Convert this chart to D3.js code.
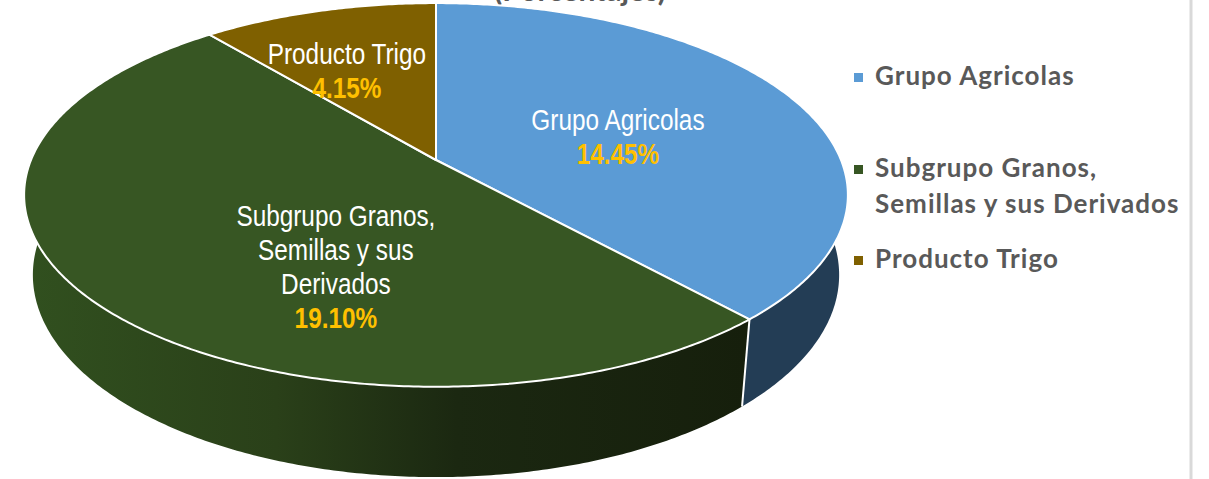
<!DOCTYPE html>
<html lang="es">
<head>
  <meta charset="UTF-8">
  <title>Pie 3D</title>
  <script src="https://d3js.org/d3.v7.min.js"></script>
  <style>
    body { margin: 0; background: #fff; }
    .lbl-name { font-family: "Liberation Sans", Arial, sans-serif; font-size: 29px; fill: #fff; }
    .lbl-pct { font-family: "Liberation Sans", Arial, sans-serif; font-size: 29px; font-weight: bold; fill: #ffc000; }
    .legend text { font-family: Lato, "Open Sans", sans-serif; font-size: 26px; font-weight: bold; fill: #595959; letter-spacing: 1px; }
    .title { font-family: Lato, "Open Sans", sans-serif; font-size: 30px; font-weight: bold; fill: #595959; }
  </style>
</head>
<body>
  <svg width="1209" height="479"></svg>
  <script>
    // datos
    const categories = ["Grupo Agricolas", "Subgrupo Granos, Semillas y sus Derivados", "Producto Trigo"];
    const values = [14.45, 19.10, 4.15];
    const colors = ["#5b9bd5", "#375623", "#7f6000"];
    const sideColors = ["#233d55", "url(#gradGreen)", "#4a3800"];
    const labelLines = [["Grupo Agricolas"], ["Subgrupo Granos,", "Semillas y sus", "Derivados"], ["Producto Trigo"]];
    const legendLines = [["Grupo Agricolas"], ["Subgrupo Granos,", "Semillas y sus Derivados"], ["Producto Trigo"]];
    // posicion de etiqueta (angulo en grados, radio relativo)
    const labelSpots = [[71.8, 0.486], [204, 0.552], [336.4, 0.605]];

    const svg = d3.select("svg");

    // proyeccion en perspectiva (camara inclinada)
    const cx = 436, cy = 160;
    const phi = Math.asin(0.458);
    const R = 0.2048, d = 1, f = 1977.5, H = 0.0458;

    function proj(a, r, h) {
      const X = R * r * Math.sin(a), Z = R * r * Math.cos(a), Y = h;
      const yc = Y * Math.cos(phi) + Z * Math.sin(phi);
      const zc = Z * Math.cos(phi) - Y * Math.sin(phi) + d;
      return [cx + f * X / zc, cy - f * yc / zc];
    }

    function arcPts(a0, a1, h) {
      const n = Math.max(8, Math.ceil(Math.abs(a1 - a0) / 0.01));
      return d3.range(n + 1).map(i => proj(a0 + (a1 - a0) * i / n, 1, h));
    }

    const pie = d3.pie().sort(null).value(d => d);
    const arcs = pie(values);

    const defs = svg.append("defs");
    const g1 = defs.append("linearGradient").attr("id", "gradGreen")
      .attr("gradientUnits", "userSpaceOnUse")
      .attr("x1", 25).attr("x2", 745).attr("y1", 0).attr("y2", 0);
    g1.append("stop").attr("offset", 0).attr("stop-color", "#31501f");
    g1.append("stop").attr("offset", 0.35).attr("stop-color", "#2a4019");
    g1.append("stop").attr("offset", 0.6).attr("stop-color", "#1b2811");
    g1.append("stop").attr("offset", 1).attr("stop-color", "#161f0c");

    const line = d3.line();

    // titulo (cortado arriba)
    svg.append("text").attr("class", "title")
      .attr("x", 580).attr("y", 1)
      .attr("text-anchor", "middle")
      .text("(Porcentajes)");

    // paredes laterales
    arcs.forEach((s, i) => {
      const top = arcPts(s.startAngle, s.endAngle, 0);
      const bot = arcPts(s.endAngle, s.startAngle, -H);
      svg.append("path")
        .attr("d", line(top.concat(bot)) + "Z")
        .attr("fill", sideColors[i]);
    });

    // lineas verticales entre paredes
    arcs.forEach(s => {
      const a = s.endAngle;
      if (Math.cos(a) < 0) {
        svg.append("path")
          .attr("d", line([proj(a, 1, 0), proj(a, 1, -H)]))
          .attr("stroke", "#fff").attr("stroke-width", 2);
      }
    });

    // caras superiores
    arcs.forEach((s, i) => {
      const pts = [proj(0, 0, 0)].concat(arcPts(s.startAngle, s.endAngle, 0));
      svg.append("path")
        .attr("d", line(pts) + "Z")
        .attr("fill", colors[i])
        .attr("stroke", "#fff")
        .attr("stroke-width", 2)
        .attr("stroke-linejoin", "round");
    });

    // etiquetas (letra estrecha: escala horizontal)
    const lh = 34;
    arcs.forEach((s, i) => {
      const [la, lr] = labelSpots[i];
      const [px, py] = proj(la * Math.PI / 180, lr, 0);
      const lines = labelLines[i].concat([d3.format(".2f")(values[i]) + "%"]);
      const first = -(lines.length - 1) * lh / 2 + 14;
      const t = svg.append("text")
        .attr("text-anchor", "middle")
        .attr("transform", `translate(${px},${py}) scale(0.84,1)`);
      lines.forEach((l, k) => {
        t.append("tspan")
          .attr("class", k === lines.length - 1 ? "lbl-pct" : "lbl-name")
          .attr("x", 0).attr("y", first + k * lh)
          .text(l);
      });
    });

    // leyenda
    const legendY = [85, 177, 268];
    const leg = svg.append("g").attr("class", "legend");
    legendLines.forEach((ls, i) => {
      leg.append("rect")
        .attr("x", 854).attr("y", legendY[i] - 12)
        .attr("width", 9).attr("height", 9)
        .attr("fill", colors[i]);
      const t = leg.append("text");
      ls.forEach((l, k) => {
        t.append("tspan").attr("x", 875).attr("y", legendY[i] + k * 36).text(l);
      });
    });

    // borde derecho
    svg.append("line")
      .attr("x1", 1191).attr("x2", 1191).attr("y1", 0).attr("y2", 479)
      .attr("stroke", "#d9d9d9").attr("stroke-width", 3);
  </script>
</body>
</html>
